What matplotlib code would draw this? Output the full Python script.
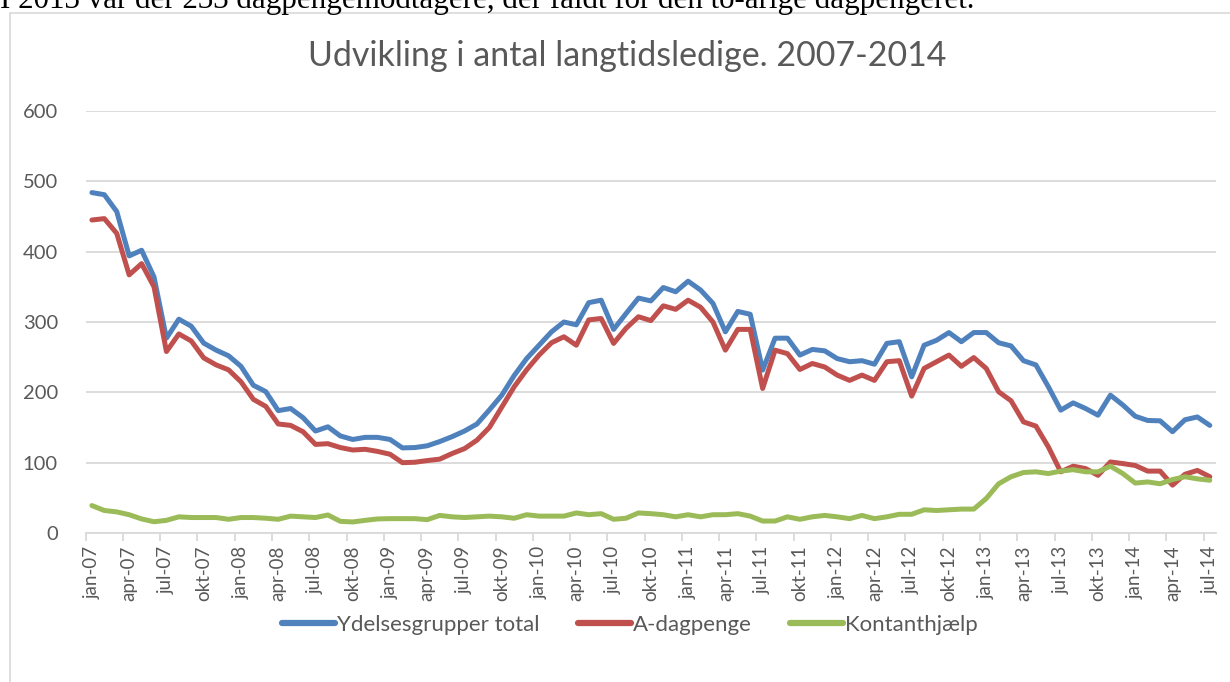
import matplotlib
matplotlib.use("Agg")
import matplotlib.pyplot as plt
from matplotlib.patches import Rectangle

months = ["jan", "feb", "mar", "apr", "maj", "jun", "jul", "aug", "sep", "okt", "nov", "dec"]
categories = [f"{months[m]}-{y:02d}" for y in range(7, 15) for m in range(12)][:91]

total = [484, 481, 457, 394, 402, 364, 277, 304, 294, 270, 260, 252, 237, 210, 201,
         174, 177, 164, 145, 151, 138, 133, 136, 136, 133, 121, 121.5, 124, 130, 137,
         145, 155, 175, 196, 224, 248, 267, 286, 300, 296, 327.5, 331, 289.5, 312, 334,
         330, 349, 343, 358, 345.5, 326.5, 286, 315, 311, 231.6, 277, 277, 253, 261, 259,
         248, 243.5, 245, 240, 269.6, 272, 222, 267, 274, 285, 272, 285, 285, 270.5, 266,
         245, 239, 208, 174.7, 185, 177, 167.5, 196, 182, 166, 160, 159.5, 144, 161, 165, 153]

adagpenge = [445, 447, 426, 367, 383, 350, 258, 283, 273, 249, 239, 232, 215, 190, 180,
             155, 153, 144, 126, 127, 121.5, 118, 119, 116, 112, 100, 100.6, 103, 105, 113,
             120, 132, 150, 179, 208, 232, 253, 270.5, 279, 267, 303, 305, 269.6, 291, 307.5,
             302, 323, 318, 331, 321, 300, 260, 289.5, 289.5, 205.5, 260, 255, 232.5, 241, 236,
             224.5, 217, 224.5, 217, 243.5, 245, 194.6, 234, 243.5, 253, 237, 249.4, 234, 200.8, 188,
             158, 152, 122.5, 87, 95, 91.6, 82, 101, 98.7, 96, 88, 88, 68, 83.5, 89, 80]

kontanthjaelp = [39, 32, 30, 26, 20, 16, 18, 23, 22, 22, 22, 19.5, 22, 22, 21,
                 19.5, 24, 23, 22, 25.6, 16.6, 15.7, 18, 20, 20.4, 20.4, 20.4, 19, 25, 23,
                 22, 23, 24, 23, 21, 26, 24, 24, 24, 28.5, 26, 27.5, 19.5, 21, 28.5,
                 27.5, 26, 23, 26, 23, 26, 26, 27.5, 24, 17, 17, 23, 19.5, 23, 25,
                 23, 20.4, 25, 20.4, 23, 26.6, 26.6, 33, 32, 33, 34, 34, 49, 70, 80,
                 86, 87, 84.5, 88, 90, 87, 87, 95, 84.5, 71, 72.6, 70, 76, 80, 77, 75]

series_names = ["Ydelsesgrupper total", "A-dagpenge", "Kontanthjælp"]
colors = ["#4F81BD", "#C0504D", "#9BBB59"]
yticks = [0, 100, 200, 300, 400, 500, 600]

W, H = 1230, 682
fig = plt.figure(figsize=(W / 100, H / 100), dpi=100)
fig.patch.set_facecolor("white")

# document text cut at the top of the screenshot
fig.text(0.0, 1 - 8 / H, "I 2013 var der 233 dagpengemodtagere, der faldt for den to-årige dagpengeret.",
         family="Liberation Serif", fontsize=22.3, color="black", va="baseline", ha="left")

# chart frame
fig.patches.append(Rectangle((10 / W, -0.1), 1.2, 1.1 - 13 / H, transform=fig.transFigure,
                             fill=False, edgecolor="#D9D9D9", linewidth=1.2, zorder=0))

ax = fig.add_axes([85.7 / W, (H - 533) / H, (1216 - 85.7) / W, (533 - 111) / H])
x = list(range(len(categories)))
for vals, name, c in zip([total, adagpenge, kontanthjaelp], series_names, colors):
    ax.plot(x, vals, color=c, linewidth=3.6, label=name, solid_capstyle="round",
            solid_joinstyle="round", zorder=3)

ax.set_xlim(-0.5, len(categories) - 0.5)
ax.set_ylim(0, 600)
ax.set_yticks(yticks)
ax.set_yticklabels([str(v) for v in yticks], family="Lato", fontsize=14.5, color="#595959")
ax.yaxis.grid(True, color="#D9D9D9", linewidth=1.3)
ax.set_axisbelow(True)
ax.tick_params(axis="y", length=0, pad=20)

lab_pos = list(range(0, len(categories), 3))
ax.set_xticks(lab_pos)
ax.set_xticklabels([categories[i] for i in lab_pos], rotation=90, family="Lato",
                   fontsize=13.5, color="#595959")
ax.set_xticks([p - 0.5 for p in range(0, len(categories), 3)], minor=True)
ax.tick_params(axis="x", which="major", length=0, pad=9)
ax.tick_params(axis="x", which="minor", length=6, width=1.3, color="#D9D9D9", direction="out")

for s in ["top", "right", "left"]:
    ax.spines[s].set_visible(False)
ax.spines["bottom"].set_color("#D9D9D9")
ax.spines["bottom"].set_linewidth(1.3)

fig.text(627 / W, 1 - 56 / H, "Udvikling i antal langtidsledige. 2007-2014", family="Lato",
         fontsize=24.5, color="#595959", ha="center", va="center")

leg = fig.legend(loc="center", bbox_to_anchor=(630 / W, 1 - 625 / H), ncol=3, frameon=False,
                 prop={"family": "Lato", "size": 16}, handlelength=2.4, handletextpad=0.1,
                 columnspacing=1.7)
for t in leg.get_texts():
    t.set_color("#595959")
for l in leg.get_lines():
    l.set_linewidth(4.5)

fig.savefig("out.png", dpi=100, facecolor="white")
